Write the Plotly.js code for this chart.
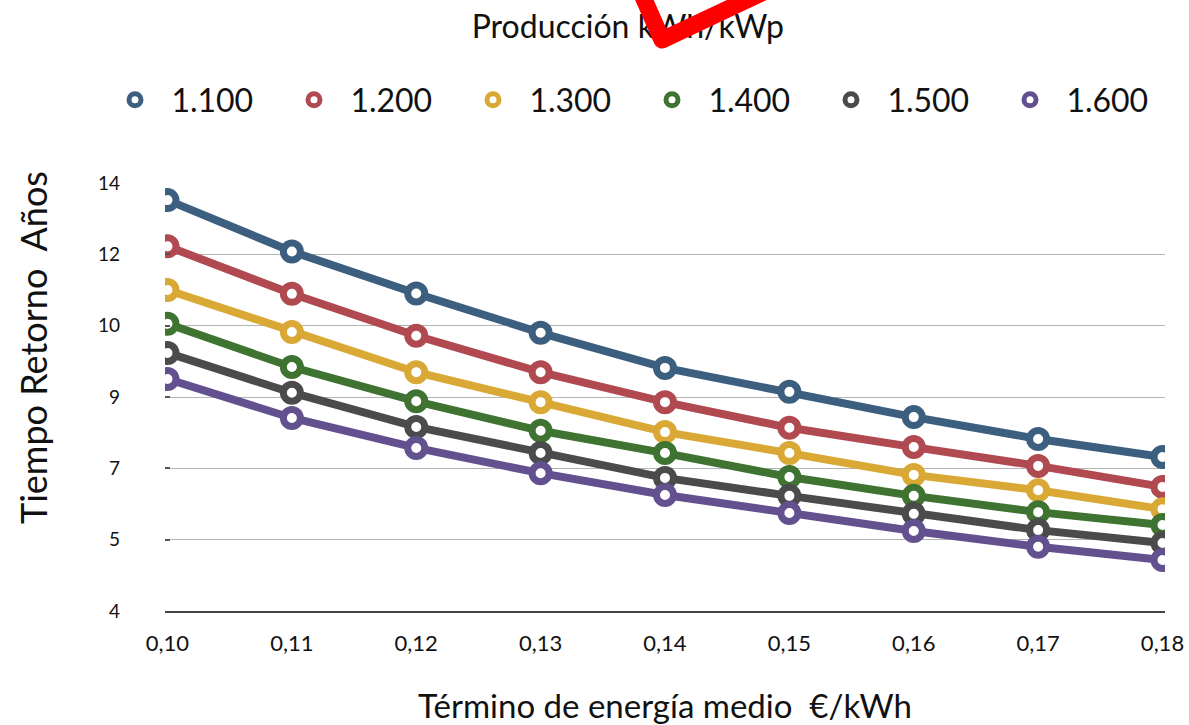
<!DOCTYPE html>
<html>
<head>
<meta charset="utf-8">
<script src="https://cdn.plot.ly/plotly-3.0.1.min.js"></script>
<style>
  html, body { margin: 0; padding: 0; background: #fff; }
  #wrap { position: relative; width: 1189px; height: 725px; }
  #chart { width: 1189px; height: 725px; }
  #mark { position: absolute; left: 0; top: 0; pointer-events: none; }
</style>
</head>
<body>
<div id="wrap">
  <div id="chart"></div>
  <svg id="mark" width="1189" height="725">
    <polyline points="640,-10 662,40 785,-18" fill="none" stroke="#ff0000" stroke-width="17" stroke-linejoin="round" stroke-linecap="butt"/>
  </svg>
</div>
<script>
// Average energy price (€/kWh)
const precios = [0.10, 0.11, 0.12, 0.13, 0.14, 0.15, 0.16, 0.17, 0.18];

// Series names: production kWh/kWp
const producciones = ["1.100", "1.200", "1.300", "1.400", "1.500", "1.600"];

// Payback time (years) for each production level
const retorno1100 = [13.60, 12.40, 11.42, 10.50, 9.68, 9.12, 8.53, 8.02, 7.60];
const retorno1200 = [12.52, 11.41, 10.43, 9.58, 8.88, 8.28, 7.83, 7.39, 6.90];
const retorno1300 = [11.50, 10.52, 9.58, 8.88, 8.18, 7.69, 7.18, 6.82, 6.38];
const retorno1400 = [10.71, 9.70, 8.90, 8.21, 7.69, 7.13, 6.69, 6.31, 6.01];
const retorno1500 = [10.03, 9.10, 8.30, 7.69, 7.11, 6.69, 6.27, 5.89, 5.59];
const retorno1600 = [9.42, 8.51, 7.81, 7.22, 6.71, 6.29, 5.87, 5.50, 5.19];

// Y-axis tick labels as printed on the original chart
const yTickLabels = ["4", "5", "7", "9", "10", "12", "14"];
const yMin = 4, yMax = 14;

const series = [retorno1100, retorno1200, retorno1300, retorno1400, retorno1500, retorno1600];
const colors = ["#3c5f80", "#b04a50", "#d9a835", "#3e7331", "#4b4b4b", "#63518f"];

const yTickVals = yTickLabels.map((_, i) => yMin + i * (yMax - yMin) / (yTickLabels.length - 1));

const FONT = "Lato, 'Open Sans', sans-serif";
const traces = [];
series.forEach((ys, i) => {
  traces.push({
    x: precios, y: ys, type: "scatter", mode: "lines+markers",
    name: producciones[i], showlegend: false,
    line: { color: colors[i], width: 8 },
    marker: { symbol: "circle", size: 17, color: "#ffffff", line: { color: colors[i], width: 7 } },
    hoverinfo: "x+y+name"
  });
});
// legend-only entries (marker only)
series.forEach((ys, i) => {
  traces.push({
    x: [null], y: [null], type: "scatter", mode: "markers",
    name: "\u00a0\u00a0" + producciones[i], showlegend: true,
    marker: { symbol: "circle", size: 12, color: "#ffffff", line: { color: colors[i], width: 5 } }
  });
});

const layout = {
  width: 1189, height: 725,
  margin: { l: 165, r: 24, t: 183, b: 114 },
  paper_bgcolor: "#ffffff", plot_bgcolor: "#ffffff",
  separators: ",.",
  font: { family: FONT, color: "#111111" },
  title: {
    text: "Producción kWh/kWp",
    font: { family: FONT, size: 32, color: "#111111" },
    x: 0.528, xanchor: "center", y: 1 - 27 / 725, yanchor: "middle"
  },
  showlegend: true,
  legend: {
    orientation: "h", x: -0.047, xanchor: "left", y: 1 + 83 / 428, yanchor: "middle",
    font: { family: FONT, size: 32, color: "#111111" },
    entrywidth: 134, entrywidthmode: "pixels",
    bgcolor: "rgba(0,0,0,0)"
  },
  xaxis: {
    range: [0.0998, 0.1802],
    tickvals: precios, tickformat: ".2f",
    showgrid: false, zeroline: false,
    showline: true, linecolor: "#444444", linewidth: 2,
    ticks: "",
    tickfont: { family: FONT, size: 22, color: "#111111" },
    ticklabelstandoff: 12,
    title: { text: "Término de energía medio  €/kWh", font: { family: FONT, size: 33, color: "#111111" }, standoff: 46 }
  },
  yaxis: {
    range: [yMin, yMax],
    tickvals: yTickVals, ticktext: yTickLabels,
    showgrid: true, gridcolor: "#b4b4b4", gridwidth: 1,
    zeroline: false, showline: false,
    ticks: "inside", ticklen: 5, tickcolor: "#555555", tickwidth: 2,
    tickfont: { family: FONT, size: 19, color: "#111111" },
    ticklabelstandoff: 44
  },
  annotations: [{
    text: "Tiempo Retorno  Años", textangle: -90, showarrow: false,
    xref: "paper", yref: "paper", x: -0.132, y: 0.6145,
    xanchor: "center", yanchor: "middle",
    font: { family: FONT, size: 36, color: "#111111" }
  }]
};

Plotly.newPlot("chart", traces, layout, { displayModeBar: false, staticPlot: true });
</script>
</body>
</html>
